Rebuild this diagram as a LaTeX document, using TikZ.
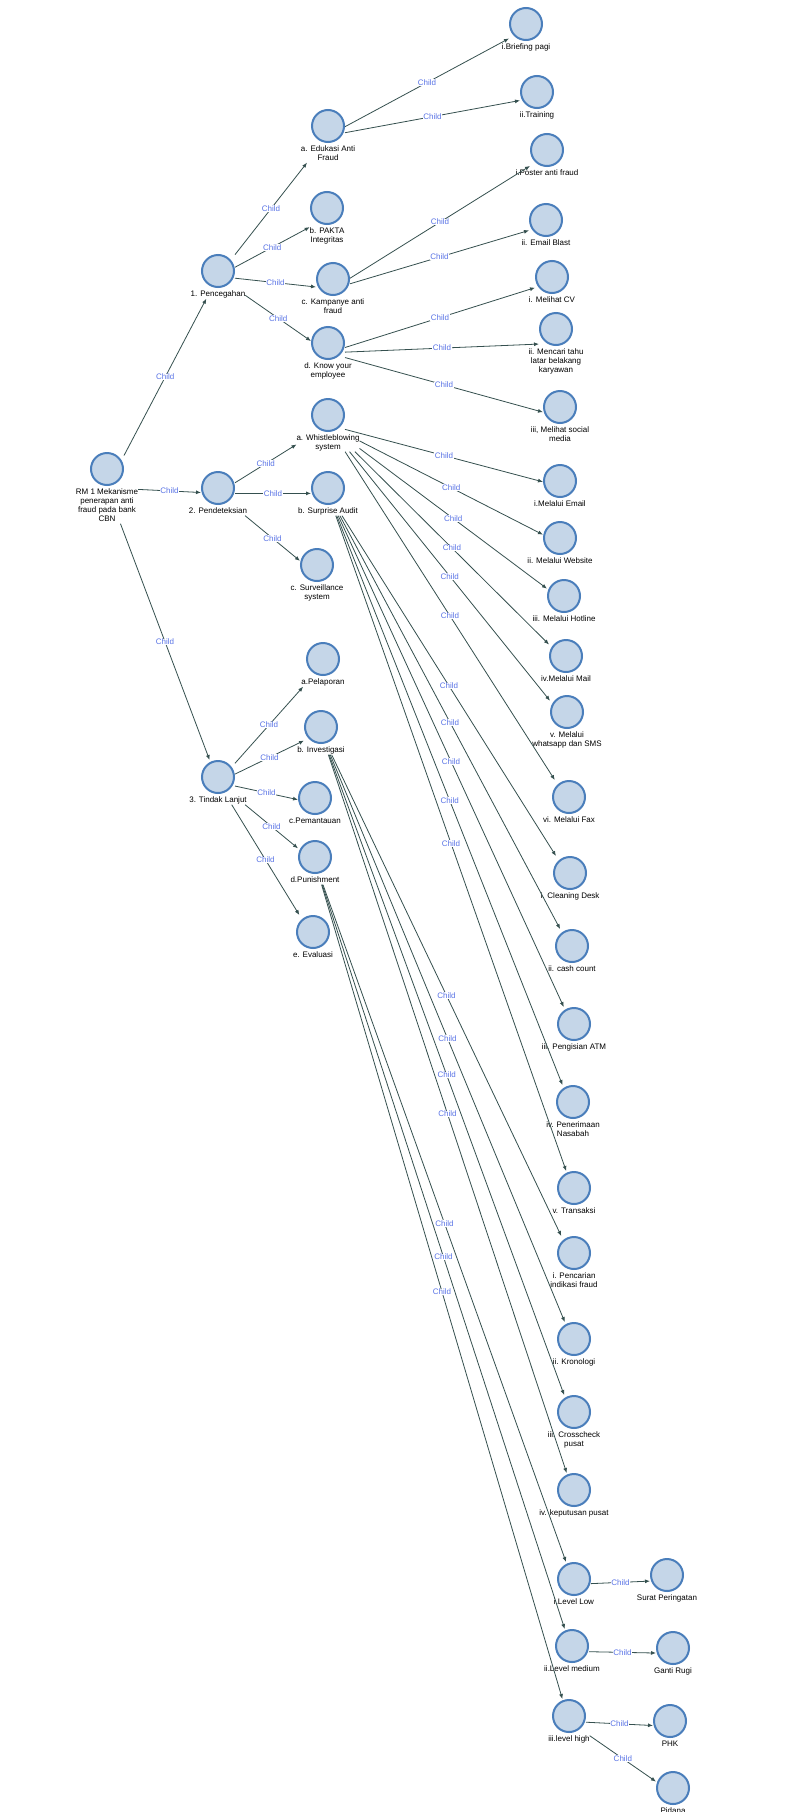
\documentclass[tikz,border=0pt]{standalone}
\usepackage{fontspec}
\setmainfont{Liberation Sans}
\usetikzlibrary{arrows.meta,fit}

\definecolor{bulbfill}{HTML}{C5D6E8}
\definecolor{bulbline}{HTML}{4A7EBB}
\definecolor{wire}{HTML}{35504F}
\definecolor{childblue}{HTML}{5A74E6}

% room for the circle on top, caption lines underneath
\newcommand{\lbl}[1]{\begin{tabular}{@{}c@{}}\rule{0pt}{33pt}\\#1\end{tabular}}

\tikzset{
  bulb/.style={circle, draw=bulbline, fill=bulbfill, line width=2pt,
    minimum size=32pt, inner sep=0pt},
  % whole box = circle + caption; (name-c) = the strip as wide as the circle
  concept/.style={rectangle, inner sep=0pt, outer sep=0pt, minimum width=34pt,
    anchor=north, font=\fontsize{8pt}{9pt}\selectfont,
    label={[bulb,anchor=north]north:{}},
    append after command={node[inner sep=0pt, outer sep=0pt,
      fit={([xshift=-17pt]\tikzlastnode.north) ([xshift=17pt]\tikzlastnode.south)},
      name=\tikzlastnode-c] {}}},
  tag/.style={fill=white, text=childblue, inner sep=0.4pt,
    font=\fontsize{8pt}{9pt}\selectfont},
  every edge/.style={draw=wire, line width=0.8pt},
}

\begin{document}
\begin{tikzpicture}[x=1pt, y=-1pt, >={Latex[length=5pt,width=4pt]}]
  \useasboundingbox[fill=white] (0,0) rectangle (787,1812);

  \path
  node[concept] (root) at (107,452) {\lbl{RM 1 Mekanisme\\penerapan anti\\fraud pada bank\\CBN}}

  node[concept] (cegah)   at (218,254) {\lbl{1. Pencegahan}}
  node[concept] (deteksi) at (218,471) {\lbl{2. Pendeteksian}}
  node[concept] (tindak)  at (218,760) {\lbl{3. Tindak Lanjut}}

  node[concept] (edukasi)  at (328,109) {\lbl{a. Edukasi Anti\\Fraud}}
  node[concept] (pakta)    at (327,191) {\lbl{b. PAKTA\\Integritas}}
  node[concept] (kampanye) at (333,262) {\lbl{c. Kampanye anti\\fraud}}
  node[concept] (kenal)    at (328,326) {\lbl{d. Know your\\employee}}

  node[concept] (briefing) at (526,7)   {\lbl{i.Briefing pagi}}
  node[concept] (training) at (537,75)  {\lbl{ii.Training}}
  node[concept] (poster)   at (547,133) {\lbl{i.Poster anti fraud}}
  node[concept] (blast)    at (546,203) {\lbl{ii. Email Blast}}
  node[concept] (cv)       at (552,260) {\lbl{i. Melihat CV}}
  node[concept] (latar)    at (556,312) {\lbl{ii. Mencari tahu\\latar belakang\\karyawan}}
  node[concept] (sosmed)   at (560,390) {\lbl{iii, Melihat social\\media}}

  node[concept] (wbs)   at (328,398) {\lbl{a. Whistleblowing\\system}}
  node[concept] (audit) at (328,471) {\lbl{b. Surprise Audit}}
  node[concept] (surv)  at (317,548) {\lbl{c. Surveillance\\system}}

  node[concept] (email)   at (560,464) {\lbl{i.Melalui Email}}
  node[concept] (website) at (560,521) {\lbl{ii. Melalui Website}}
  node[concept] (hotline) at (564,579) {\lbl{iii. Melalui Hotline}}
  node[concept] (mail)    at (566,639) {\lbl{iv.Melalui Mail}}
  node[concept] (wa)      at (567,695) {\lbl{v. Melalui\\whatsapp dan SMS}}
  node[concept] (fax)     at (569,780) {\lbl{vi. Melalui Fax}}

  node[concept] (desk)      at (570,856)  {\lbl{i. Cleaning Desk}}
  node[concept] (cash)      at (572,929)  {\lbl{ii. cash count}}
  node[concept] (atm)       at (574,1007) {\lbl{iii. Pengisian ATM}}
  node[concept] (nasabah)   at (573,1085) {\lbl{iv. Penerimaan\\Nasabah}}
  node[concept] (transaksi) at (574,1171) {\lbl{v. Transaksi}}

  node[concept] (lapor)       at (323,642) {\lbl{a.Pelaporan}}
  node[concept] (investigasi) at (321,710) {\lbl{b. Investigasi}}
  node[concept] (pantau)      at (315,781) {\lbl{c.Pemantauan}}
  node[concept] (punish)      at (315,840) {\lbl{d.Punishment}}
  node[concept] (evaluasi)    at (313,915) {\lbl{e. Evaluasi}}

  node[concept] (indikasi)   at (574,1236) {\lbl{i. Pencarian\\indikasi fraud}}
  node[concept] (kronologi)  at (574,1322) {\lbl{ii. Kronologi}}
  node[concept] (crosscheck) at (574,1395) {\lbl{iii. Crosscheck\\pusat}}
  node[concept] (keputusan)  at (574,1473) {\lbl{iv. keputusan pusat}}

  node[concept] (low)    at (574,1562) {\lbl{i.Level Low}}
  node[concept] (medium) at (572,1629) {\lbl{ii.Level medium}}
  node[concept] (high)   at (569,1699) {\lbl{iii.level high}}

  node[concept] (surat)  at (667,1558) {\lbl{Surat Peringatan}}
  node[concept] (ganti)  at (673,1631) {\lbl{Ganti Rugi}}
  node[concept] (phk)    at (670,1704) {\lbl{PHK}}
  node[concept] (pidana) at (673,1771) {\lbl{Pidana}}
  ;

  % lines leave/enter the caption when they pass below the circle
  \path[->]
  (root-c) edge node[tag] {Child} (cegah-c)
  (root)   edge node[tag] {Child} (deteksi-c)
  (root-c) edge node[tag] {Child} (tindak-c)

  (cegah-c) edge node[tag] {Child} (edukasi)
  (cegah-c) edge node[tag] {Child} (pakta)
  (cegah-c) edge node[tag] {Child} (kampanye-c)
  (cegah)   edge node[tag] {Child} (kenal-c)

  (edukasi-c)  edge node[tag] {Child} (briefing-c)
  (edukasi-c)  edge node[tag] {Child} (training-c)
  (kampanye-c) edge node[tag] {Child} (poster-c)
  (kampanye-c) edge node[tag] {Child} (blast-c)
  (kenal-c)    edge node[tag] {Child} (cv-c)
  (kenal-c)    edge node[tag] {Child} (latar-c)
  (kenal-c)    edge node[tag] {Child} (sosmed-c)

  (deteksi-c) edge node[tag] {Child} (wbs)
  (deteksi-c) edge node[tag] {Child} (audit-c)
  (deteksi)   edge node[tag] {Child} (surv-c)

  (wbs-c) edge node[tag] {Child} (email-c)
  (wbs)   edge node[tag] {Child} (website-c)
  (wbs)   edge node[tag] {Child} (hotline-c)
  (wbs)   edge node[tag] {Child} (mail-c)
  (wbs)   edge node[tag] {Child} (wa-c)
  (wbs)   edge node[tag] {Child} (fax-c)

  (audit-c) edge node[tag] {Child} (desk-c)
  (audit-c) edge node[tag] {Child} (cash-c)
  (audit-c) edge node[tag] {Child} (atm-c)
  (audit-c) edge node[tag] {Child} (nasabah-c)
  (audit-c) edge node[tag] {Child} (transaksi-c)

  (tindak-c) edge node[tag] {Child} (lapor)
  (tindak-c) edge node[tag] {Child} (investigasi-c)
  (tindak-c) edge node[tag] {Child} (pantau-c)
  (tindak)   edge node[tag] {Child} (punish-c)
  (tindak-c) edge node[tag] {Child} (evaluasi-c)

  (investigasi-c) edge node[tag] {Child} (indikasi-c)
  (investigasi-c) edge node[tag] {Child} (kronologi-c)
  (investigasi-c) edge node[tag] {Child} (crosscheck-c)
  (investigasi-c) edge node[tag] {Child} (keputusan-c)

  (punish-c) edge node[tag] {Child} (low-c)
  (punish-c) edge node[tag] {Child} (medium-c)
  (punish-c) edge node[tag] {Child} (high-c)

  (low-c)    edge node[tag] {Child} (surat-c)
  (medium-c) edge node[tag] {Child} (ganti-c)
  (high-c)   edge node[tag] {Child} (phk-c)
  (high)     edge node[tag] {Child} (pidana-c)
  ;
\end{tikzpicture}
\end{document}
